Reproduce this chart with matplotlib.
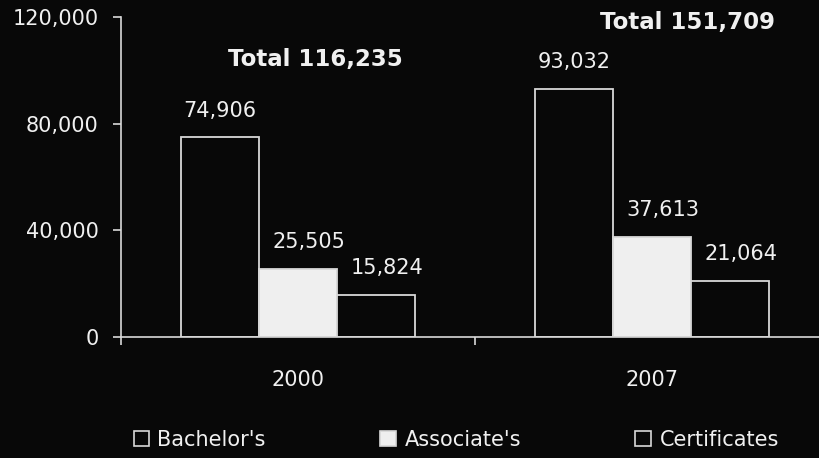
import matplotlib
matplotlib.use("Agg")
import matplotlib.pyplot as plt
from matplotlib.patches import Patch
import numpy as np

years = ["2000", "2007"]
series = ["Bachelor's", "Associate's", "Certificates"]
bachelors = [74906, 93032]
associates = [25505, 37613]
certificates = [15824, 21064]
totals = ["Total 116,235", "Total 151,709"]
total_y = [103900, 117800]
total_dx = [0.05, 0.10]

plt.rcParams['font.family'] = ['DejaVu Sans']
BG = '#080808'
FG = '#f0f0f0'
EDGE = '#d8d8d8'

fig = plt.figure(figsize=(8.19, 4.58), dpi=100, facecolor=BG)
ax = fig.add_axes([121/819, (458-337)/458, 708/819, 320/458], facecolor=BG)

x = np.arange(len(years))
w = 0.22
values = [bachelors, associates, certificates]
fills = [BG, '#efefef', BG]
label_dx = [0, 8, 8]
for i, (vals, fc) in enumerate(zip(values, fills)):
    pos = x + (i - 1) * w
    bars = ax.bar(pos, vals, width=w, color=fc, edgecolor=EDGE, linewidth=1.3, zorder=3)
    for b, v in zip(bars, vals):
        ax.annotate(f"{v:,}", (b.get_x() + b.get_width()/2, v), xytext=(label_dx[i], 12),
                    textcoords='offset points', ha='center', va='bottom',
                    color=FG, fontsize=15)

for xi, t, ty, dx in zip(x, totals, total_y, total_dx):
    ax.text(xi + dx, ty, t, ha='center', va='center', color=FG, fontsize=16.5,
            fontweight='bold')

ax.set_xlim(-0.5, 1.5)
ax.set_ylim(0, 120000)
ax.set_yticks([0, 40000, 80000, 120000])
ax.set_yticklabels(["0", "40,000", "80,000", "120,000"])
ax.set_xticks(x)
ax.set_xticklabels(years)
ax.set_xticks([-0.5, 0.5, 1.5], minor=True)

for s in ['top', 'right']:
    ax.spines[s].set_visible(False)
for s in ['left', 'bottom']:
    ax.spines[s].set_color(EDGE)
    ax.spines[s].set_linewidth(1.2)
ax.spines['bottom'].set_zorder(4)

ax.tick_params(axis='y', colors=EDGE, labelcolor=FG, labelsize=15, length=6, width=1.2, pad=10)
ax.tick_params(axis='x', which='major', length=0, labelcolor=FG, labelsize=15, pad=24)
ax.tick_params(axis='x', which='minor', colors=EDGE, length=6, width=1.2)

handles = [Patch(facecolor=f, edgecolor=EDGE, linewidth=1.2) for f in fills]
leg = fig.legend(handles, series, loc='center', bbox_to_anchor=(0.557, 0.04), ncol=3,
                 frameon=False, fontsize=15, handlelength=0.75, handleheight=0.75,
                 handletextpad=0.4, columnspacing=5.5)
for t in leg.get_texts():
    t.set_color(FG)

fig.savefig("out.png", dpi=100, facecolor=BG)
